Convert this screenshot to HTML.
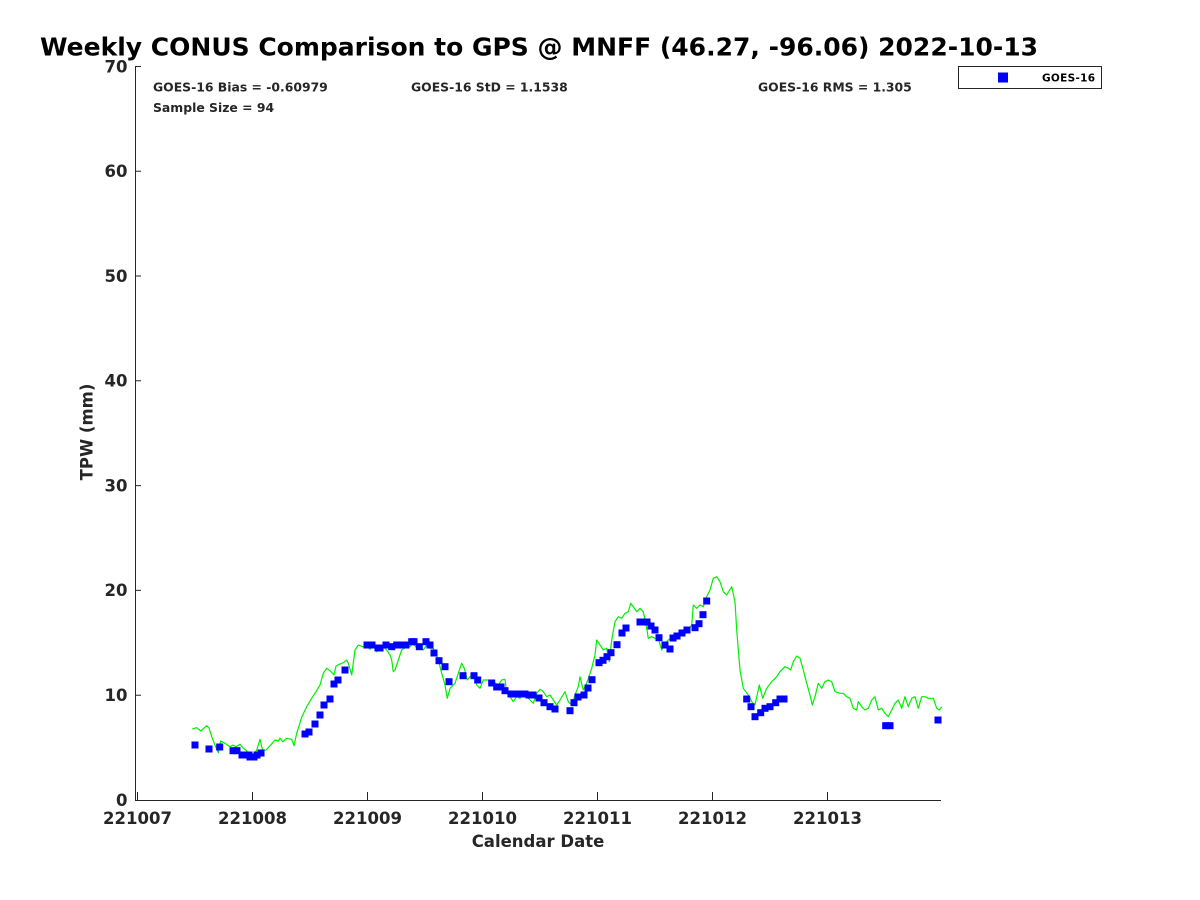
<!DOCTYPE html>
<html><head><meta charset="utf-8"><style>
html,body{margin:0;padding:0;background:#fff;}
svg{display:block;}
text{font-family:"DejaVu Sans","Liberation Sans",sans-serif;font-weight:bold;}
</style></head><body>
<svg width="1200" height="900" viewBox="0 0 1200 900" xmlns="http://www.w3.org/2000/svg">
<rect width="1200" height="900" fill="#fff"/>
<text x="40" y="55.5" font-size="25" fill="#000">Weekly CONUS Comparison to GPS @ MNFF (46.27, -96.06) 2022-10-13</text>

<g stroke="#262626" stroke-width="1" fill="none">
<path d="M135.5 66.5 V800.5 H941"/>
<path d="M137.5 800 V792 M252.5 800 V792 M367.5 800 V792 M482.5 800 V792 M597.5 800 V792 M712.5 800 V792 M827.5 800 V792"/>
<path d="M135 66.5 H141 M135 171.3 H141 M135 276 H141 M135 380.8 H141 M135 485.6 H141 M135 590.4 H141 M135 695.2 H141"/>
</g>

<g font-size="16.5" fill="#262626" text-anchor="end">
<text x="127.5" y="72.3">70</text>
<text x="127.5" y="177.1">60</text>
<text x="127.5" y="281.8">50</text>
<text x="127.5" y="386.6">40</text>
<text x="127.5" y="491.4">30</text>
<text x="127.5" y="596.2">20</text>
<text x="127.5" y="701">10</text>
<text x="127.5" y="805.8">0</text>
</g>
<g font-size="16.5" fill="#262626" text-anchor="middle">
<text x="137.5" y="824">221007</text>
<text x="252.5" y="824">221008</text>
<text x="367.5" y="824">221009</text>
<text x="482.5" y="824">221010</text>
<text x="597.5" y="824">221011</text>
<text x="712.5" y="824">221012</text>
<text x="827.5" y="824">221013</text>
<text x="538" y="847">Calendar Date</text>
<text x="0" y="0" transform="translate(92.5 432) rotate(-90)">TPW (mm)</text>
</g>

<g font-size="12.4" fill="#262626">
<text x="153" y="91.5">GOES-16 Bias = -0.60979</text>
<text x="411" y="91.5">GOES-16 StD = 1.1538</text>
<text x="758" y="91.5">GOES-16 RMS = 1.305</text>
<text x="153" y="112">Sample Size = 94</text>
</g>

<polyline fill="none" stroke="#00ee00" stroke-width="1.2" stroke-linejoin="round" points="192.3,729 196.7,727.7 200.7,731 203,729 206.7,725.7 209,728 211.7,736.7 215,745 218.3,752.7 220.7,741 225,743.3 230,746.7 233,745 236,746.7 240,744.3 243.3,748.3 246.7,750.7 250,758.3 253.3,755 256.7,750 260,739.3 262.7,750.7 266,750 270.7,745 275,740 278.3,741 280,738 282.7,741.7 286.7,738.3 291.7,739.3 294,745.7 296.7,733.3 301.7,717.3 306.7,706.7 311.7,698.3 316,691.7 320,685 323.3,673.3 326.7,668.3 330,670.7 334,675 336,666 339.3,664.3 343.3,662.7 346.7,660 348.3,663.3 351.7,675 355,650 358.3,645 362.7,646.7 366.7,646 370,649.3 373.3,646 376.7,651.7 380,648 383.3,646.7 386.7,650 390,655 391.7,660 393.3,671.7 395,670 398.3,660 401.7,650 406.7,646.7 410,646.7 413,643 416.7,648 420,646.7 423.3,650 426.7,645 430,648.3 433.3,648.3 436.7,655 438.3,660 441.7,673.3 445,685 447.3,698.3 450,688.3 455,683.3 458.3,673.3 461.7,663.3 464.3,668.3 467.3,680 470,676.7 473.3,673.3 476.7,685 480,688.3 483.3,680 488.3,680 493.3,681.7 498.3,685 501.7,680 505,679.3 506.7,693.3 510,696.7 513.3,701.7 516.7,696.7 520,698.3 523.3,695 526.7,696.7 530,700 533.3,703.3 536.7,693.3 540,689.3 543.3,691.7 546.7,696.7 550,695 553.3,700 556.7,705 560,700 565,691.7 568.3,701.7 571.7,705 575,695 578.3,686.7 580,676.7 583.3,690 586.7,683.3 591.7,668.3 595,655 596.7,640 600,645 603.3,650 606.7,648.3 609.3,661.7 611.7,640 615,621.7 618.3,616.7 621.7,618.3 625,613.3 628.3,611.7 630.7,603.3 633.3,606.7 636.7,611.7 640,608.3 643.3,611.7 646.7,628.3 648.3,638.3 651.7,636.7 655,638.3 658.3,638.3 661.7,650 665,643.3 668.3,640 673.3,636.7 678.3,635 681.7,631.7 685,628.3 688.3,630 691.7,625 693.3,605 696.7,608.3 700,605 703.3,606.7 706.7,596.7 710,590 713.3,578.3 716.7,576.7 720,581.7 723.3,591.7 726.7,595 731.7,586.7 735,601.7 736.7,630 740,670 743.3,688.3 748.3,695 752.7,703.3 755,705 759.3,685 762.7,698.3 766.7,688.3 771.7,681.7 776.7,676.7 780,671.7 785,666.7 788.3,668.3 790.7,670 793.3,661.7 796.7,656 800,658.3 803.3,670 806.7,683.3 810,695 812.3,705 815,696.7 818.3,683.3 821.7,688.3 825,681.7 828.3,680 831.7,681.7 835,691.7 840,693.3 843.3,693.3 846.7,696.7 850,698.3 853.3,708.3 856.7,710 858.3,701.7 861.7,706.7 865,710 868.3,708.3 871.7,700 875,696.7 878.3,710 881.7,708.3 885,713.3 888.3,716.7 891.7,710 895,703.3 898.3,700 901.7,708.3 905,696.7 908.3,706.7 911.7,698.3 915,696.7 918.3,708.3 921.7,696.7 925,696.7 928.3,698.3 933.3,698.3 936.7,708.3 939.3,710 941.7,706.7"/>

<g fill="#0000ff">
<rect x="191.5" y="741.5" width="7" height="7"/><rect x="205.5" y="745.5" width="7" height="7"/><rect x="216.2" y="743.5" width="7" height="7"/><rect x="229.5" y="747.2" width="7" height="7"/><rect x="233.5" y="747.2" width="7" height="7"/><rect x="238.5" y="751.5" width="7" height="7"/><rect x="245.5" y="751.5" width="7" height="7"/><rect x="246.5" y="753.5" width="7" height="7"/><rect x="250.5" y="753.5" width="7" height="7"/><rect x="253.5" y="751.5" width="7" height="7"/><rect x="257.5" y="749.5" width="7" height="7"/><rect x="301.5" y="730.5" width="7" height="7"/><rect x="305.5" y="728.5" width="7" height="7"/><rect x="311.5" y="720.5" width="7" height="7"/><rect x="316.5" y="711.5" width="7" height="7"/><rect x="320.5" y="701.5" width="7" height="7"/><rect x="326.5" y="695.5" width="7" height="7"/><rect x="330.5" y="680.5" width="7" height="7"/><rect x="334.5" y="676.5" width="7" height="7"/><rect x="341.5" y="666.5" width="7" height="7"/><rect x="363.5" y="641.5" width="7" height="7"/><rect x="368.5" y="641.5" width="7" height="7"/><rect x="374.5" y="644.5" width="7" height="7"/><rect x="376.5" y="644.5" width="7" height="7"/><rect x="382.5" y="641.5" width="7" height="7"/><rect x="388.2" y="643.2" width="7" height="7"/><rect x="393.2" y="641.5" width="7" height="7"/><rect x="398.2" y="641.5" width="7" height="7"/><rect x="402.5" y="641.5" width="7" height="7"/><rect x="408.2" y="638.2" width="7" height="7"/><rect x="410.5" y="638.2" width="7" height="7"/><rect x="415.8" y="643.2" width="7" height="7"/><rect x="422.5" y="638.2" width="7" height="7"/><rect x="426.5" y="641.5" width="7" height="7"/><rect x="430.5" y="649.5" width="7" height="7"/><rect x="435.5" y="657.2" width="7" height="7"/><rect x="441.5" y="663.2" width="7" height="7"/><rect x="445.5" y="678.2" width="7" height="7"/><rect x="459.5" y="672.2" width="7" height="7"/><rect x="470.5" y="672.2" width="7" height="7"/><rect x="474.2" y="676.5" width="7" height="7"/><rect x="488.2" y="679.5" width="7" height="7"/><rect x="493.2" y="683.5" width="7" height="7"/><rect x="497.5" y="683.5" width="7" height="7"/><rect x="501.5" y="687.2" width="7" height="7"/><rect x="507.5" y="690.5" width="7" height="7"/><rect x="511.5" y="690.5" width="7" height="7"/><rect x="518.2" y="690.5" width="7" height="7"/><rect x="521.5" y="690.5" width="7" height="7"/><rect x="525.5" y="691.5" width="7" height="7"/><rect x="529.5" y="691.5" width="7" height="7"/><rect x="535.5" y="694.5" width="7" height="7"/><rect x="540.5" y="699.2" width="7" height="7"/><rect x="546.5" y="703.2" width="7" height="7"/><rect x="551.5" y="705.5" width="7" height="7"/><rect x="566.5" y="707.2" width="7" height="7"/><rect x="570.5" y="699.2" width="7" height="7"/><rect x="574.5" y="693.5" width="7" height="7"/><rect x="580.5" y="691.5" width="7" height="7"/><rect x="584.5" y="684.5" width="7" height="7"/><rect x="588.5" y="676.2" width="7" height="7"/><rect x="595.5" y="659.2" width="7" height="7"/><rect x="599.5" y="656.8" width="7" height="7"/><rect x="603.5" y="653.2" width="7" height="7"/><rect x="607.5" y="649.2" width="7" height="7"/><rect x="613.5" y="641.2" width="7" height="7"/><rect x="618.5" y="629.5" width="7" height="7"/><rect x="622.5" y="624.5" width="7" height="7"/><rect x="636.5" y="618.5" width="7" height="7"/><rect x="643.5" y="618.5" width="7" height="7"/><rect x="647.5" y="622.5" width="7" height="7"/><rect x="651.5" y="626.5" width="7" height="7"/><rect x="655.5" y="634.2" width="7" height="7"/><rect x="661.5" y="641.5" width="7" height="7"/><rect x="666.5" y="645.5" width="7" height="7"/><rect x="669.5" y="634.5" width="7" height="7"/><rect x="673.5" y="632.5" width="7" height="7"/><rect x="678.5" y="629.5" width="7" height="7"/><rect x="683.5" y="626.5" width="7" height="7"/><rect x="691.5" y="624.2" width="7" height="7"/><rect x="695.5" y="620.2" width="7" height="7"/><rect x="699.5" y="611.2" width="7" height="7"/><rect x="703.2" y="597.5" width="7" height="7"/><rect x="743.2" y="695.5" width="7" height="7"/><rect x="747.5" y="703.2" width="7" height="7"/><rect x="751.5" y="713.2" width="7" height="7"/><rect x="757.2" y="709.2" width="7" height="7"/><rect x="761.5" y="704.8" width="7" height="7"/><rect x="766.5" y="703.2" width="7" height="7"/><rect x="772.2" y="699.2" width="7" height="7"/><rect x="776.5" y="695.5" width="7" height="7"/><rect x="780.5" y="695.5" width="7" height="7"/><rect x="882.2" y="722.2" width="7" height="7"/><rect x="886.5" y="722.2" width="7" height="7"/><rect x="934.5" y="716.5" width="7" height="7"/>
</g>

<rect x="958.5" y="66.5" width="143" height="22" fill="#fff" stroke="#262626" stroke-width="1"/>
<rect x="998" y="72.5" width="10" height="10" fill="#0000ff"/>
<text x="1042" y="81.5" font-size="10.5" fill="#000" letter-spacing="0.3">GOES-16</text>
</svg>
</body></html>
